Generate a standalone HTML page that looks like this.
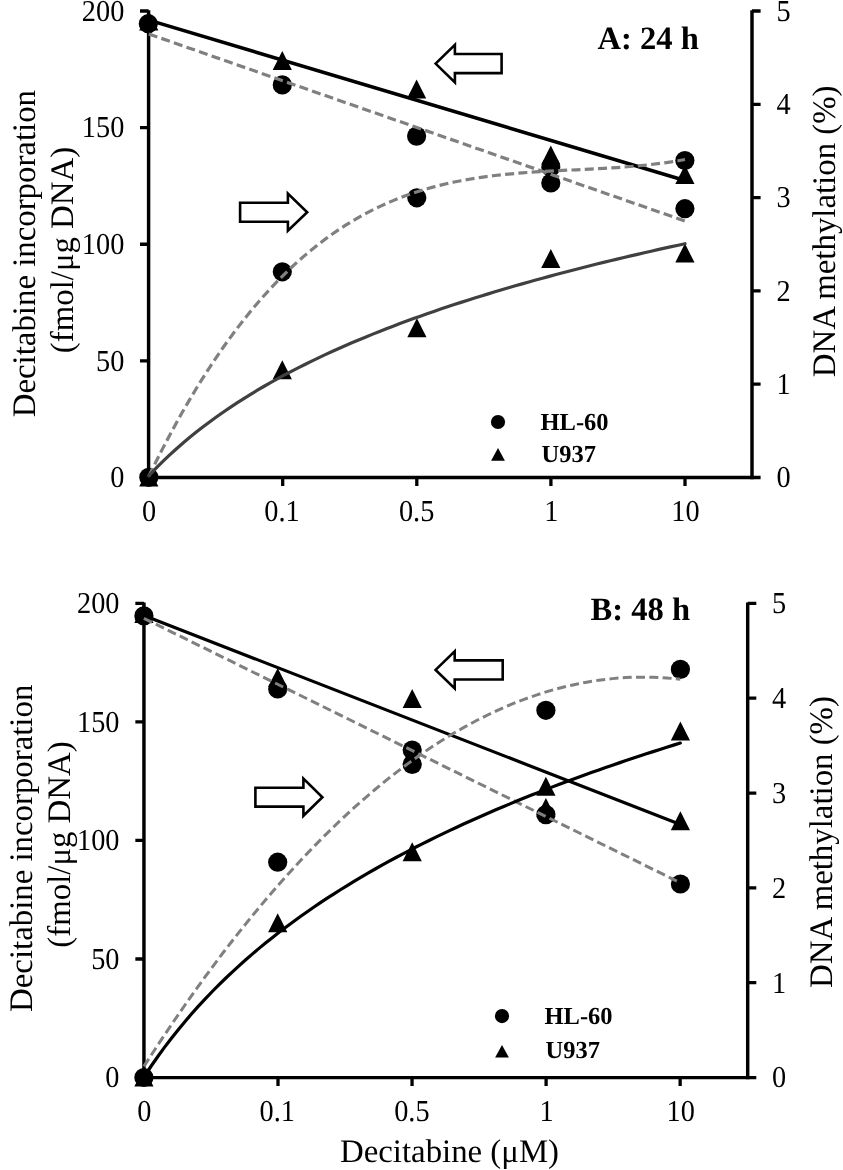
<!DOCTYPE html>
<html><head><meta charset="utf-8"><title>Decitabine</title>
<style>html,body{margin:0;padding:0;background:#fff}svg{display:block;filter:grayscale(1)}text{text-rendering:geometricPrecision}</style></head><body>
<svg width="843" height="1170" viewBox="0 0 843 1170">
<rect width="843" height="1170" fill="#fff"/>
<g stroke="#000" fill="none">
<path stroke-width="3.45" d="M148.60,10.20 V479.15 M752.00,10.20 V479.15"/>
<path stroke-width="3.3" d="M148.60,477.50 H752.00"/>
<path stroke-width="3.3" d="M140.00,477.50 H148.60 M140.00,360.88 H148.60 M140.00,244.25 H148.60 M140.00,127.62 H148.60 M140.00,11.00 H148.60 M752.00,477.50 H760.60 M752.00,384.20 H760.60 M752.00,290.90 H760.60 M752.00,197.60 H760.60 M752.00,104.30 H760.60 M752.00,11.00 H760.60 M148.60,477.50 V486.00 M282.70,477.50 V486.00 M416.80,477.50 V486.00 M550.90,477.50 V486.00 M685.00,477.50 V486.00"/>
</g>
<g font-family="Liberation Serif, serif" font-size="30.4" fill="#000">
<text transform="translate(124.3,487.3) scale(0.932,1)" text-anchor="end">0</text>
<text transform="translate(124.3,370.7) scale(0.932,1)" text-anchor="end">50</text>
<text transform="translate(124.3,254.1) scale(0.932,1)" text-anchor="end">100</text>
<text transform="translate(124.3,137.4) scale(0.932,1)" text-anchor="end">150</text>
<text transform="translate(124.3,20.8) scale(0.932,1)" text-anchor="end">200</text>
<text transform="translate(783.7,487.3) scale(0.932,1)" text-anchor="middle">0</text>
<text transform="translate(783.7,394.0) scale(0.932,1)" text-anchor="middle">1</text>
<text transform="translate(783.7,300.7) scale(0.932,1)" text-anchor="middle">2</text>
<text transform="translate(783.7,207.4) scale(0.932,1)" text-anchor="middle">3</text>
<text transform="translate(783.7,114.1) scale(0.932,1)" text-anchor="middle">4</text>
<text transform="translate(783.7,20.8) scale(0.932,1)" text-anchor="middle">5</text>
<text transform="translate(149.1,521.0) scale(0.932,1)" text-anchor="middle">0</text>
<text transform="translate(282.0,521.0) scale(0.932,1)" text-anchor="middle">0.1</text>
<text transform="translate(416.6,521.0) scale(0.932,1)" text-anchor="middle">0.5</text>
<text transform="translate(551.4,521.0) scale(0.932,1)" text-anchor="middle">1</text>
<text transform="translate(685.5,521.0) scale(0.932,1)" text-anchor="middle">10</text>
</g>
<polygon points="148.8,11.5 139.2,30.5 158.4,30.5" fill="#000"/>
<polygon points="282.3,51.0 272.7,70.0 291.9,70.0" fill="#000"/>
<polygon points="416.6,79.6 407.0,98.6 426.2,98.6" fill="#000"/>
<polygon points="550.8,145.5 541.2,164.5 560.4,164.5" fill="#000"/>
<polygon points="684.9,165.0 675.3,184.0 694.5,184.0" fill="#000"/>
<polygon points="148.8,467.5 139.2,486.5 158.4,486.5" fill="#000"/>
<polygon points="282.3,360.3 272.7,379.3 291.9,379.3" fill="#000"/>
<polygon points="416.9,318.3 407.3,337.3 426.5,337.3" fill="#000"/>
<polygon points="550.8,249.1 541.2,268.1 560.4,268.1" fill="#000"/>
<polygon points="684.9,243.5 675.3,262.5 694.5,262.5" fill="#000"/>
<circle cx="148.3" cy="23.7" r="9.6" fill="#000"/>
<circle cx="282.3" cy="84.9" r="9.6" fill="#000"/>
<circle cx="416.6" cy="136.1" r="9.6" fill="#000"/>
<circle cx="550.8" cy="183.0" r="9.6" fill="#000"/>
<circle cx="684.9" cy="208.7" r="9.6" fill="#000"/>
<circle cx="148.8" cy="477.3" r="9.6" fill="#000"/>
<circle cx="282.3" cy="271.8" r="9.6" fill="#000"/>
<circle cx="416.8" cy="197.8" r="9.6" fill="#000"/>
<circle cx="550.8" cy="167.1" r="9.6" fill="#000"/>
<circle cx="684.9" cy="160.5" r="9.6" fill="#000"/>
<path d="M148.8,20.1 L684.9,180.5" fill="none" stroke="#000" stroke-width="3.6" stroke-linecap="round"/>
<path d="M148.8,34.0 L684.9,221.0" fill="none" stroke="#808080" stroke-width="3.2" stroke-dasharray="9.0,4.3"/>
<path d="M148.80,476.31 L155.59,462.51 L162.37,449.15 L169.16,436.20 L175.95,423.67 L182.74,411.55 L189.52,399.83 L196.31,388.50 L203.10,377.57 L209.89,367.01 L216.67,356.83 L223.46,347.02 L230.25,337.56 L237.04,328.46 L243.82,319.71 L250.61,311.29 L257.40,303.21 L264.18,295.45 L270.97,288.02 L277.76,280.89 L284.55,274.07 L291.33,267.54 L298.12,261.31 L304.91,255.35 L311.70,249.68 L318.48,244.27 L325.27,239.13 L332.06,234.24 L338.85,229.61 L345.63,225.21 L352.42,221.05 L359.21,217.11 L365.99,213.40 L372.78,209.90 L379.57,206.61 L386.36,203.52 L393.14,200.62 L399.93,197.90 L406.72,195.37 L413.51,193.00 L420.29,190.81 L427.08,188.77 L433.87,186.88 L440.66,185.13 L447.44,183.53 L454.23,182.05 L461.02,180.70 L467.81,179.46 L474.59,178.33 L481.38,177.30 L488.17,176.37 L494.95,175.53 L501.74,174.77 L508.53,174.08 L515.32,173.46 L522.10,172.90 L528.89,172.40 L535.68,171.94 L542.47,171.52 L549.25,171.14 L556.04,170.77 L562.83,170.43 L569.62,170.10 L576.40,169.78 L583.19,169.45 L589.98,169.11 L596.76,168.76 L603.55,168.38 L610.34,167.97 L617.13,167.53 L623.91,167.04 L630.70,166.50 L637.49,165.90 L644.28,165.24 L651.06,164.51 L657.85,163.70 L664.64,162.80 L671.43,161.80 L678.21,160.71 L685.00,159.51" fill="none" stroke="#808080" stroke-width="3.2" stroke-dasharray="9.0,4.3"/>
<path d="M148.80,475.80 L155.59,468.68 L162.37,461.89 L169.16,455.41 L175.95,449.21 L182.74,443.26 L189.52,437.55 L196.31,432.05 L203.10,426.76 L209.89,421.66 L216.67,416.72 L223.46,411.96 L230.25,407.34 L237.04,402.87 L243.82,398.53 L250.61,394.32 L257.40,390.23 L264.18,386.25 L270.97,382.38 L277.76,378.61 L284.55,374.94 L291.33,371.36 L298.12,367.86 L304.91,364.45 L311.70,361.11 L318.48,357.85 L325.27,354.67 L332.06,351.55 L338.85,348.50 L345.63,345.51 L352.42,342.58 L359.21,339.71 L365.99,336.90 L372.78,334.14 L379.57,331.43 L386.36,328.77 L393.14,326.16 L399.93,323.60 L406.72,321.08 L413.51,318.60 L420.29,316.17 L427.08,313.77 L433.87,311.42 L440.66,309.10 L447.44,306.82 L454.23,304.58 L461.02,302.37 L467.81,300.19 L474.59,298.05 L481.38,295.94 L488.17,293.85 L494.95,291.80 L501.74,289.78 L508.53,287.78 L515.32,285.81 L522.10,283.87 L528.89,281.95 L535.68,280.06 L542.47,278.20 L549.25,276.35 L556.04,274.53 L562.83,272.74 L569.62,270.96 L576.40,269.21 L583.19,267.48 L589.98,265.77 L596.76,264.07 L603.55,262.40 L610.34,260.75 L617.13,259.11 L623.91,257.50 L630.70,255.90 L637.49,254.32 L644.28,252.76 L651.06,251.21 L657.85,249.68 L664.64,248.17 L671.43,246.67 L678.21,245.19 L685.00,243.72" fill="none" stroke="#404040" stroke-width="3.2" stroke-linecap="round"/>
<polygon points="435.6,63.6 454.9,44.9 454.9,54 501.6,54 501.6,73.1 454.9,73.1 454.9,82.4" fill="#fff" stroke="#000" stroke-width="2.6"/>
<polygon points="240.1,202.7 287.9,202.7 287.9,193.6 307.2,212.2 287.9,230.8 287.9,221.7 240.1,221.7" fill="#fff" stroke="#000" stroke-width="2.6" stroke-linejoin="miter"/>
<circle cx="498.0" cy="422.0" r="7.1" fill="#000"/>
<polygon points="498.0,448.1 491.1,460.7 504.9,460.7" fill="#000"/>
<g font-family="Liberation Serif, serif" font-weight="bold" fill="#000">
<text x="597.5" y="48.7" font-size="32.6">A: 24 h</text>
<text x="540.5" y="430.3" font-size="24.5">HL-60</text>
<text x="541.5" y="461.9" font-size="24.5">U937</text>
</g>
<g font-family="Liberation Serif, serif" font-size="32.85" fill="#000" text-anchor="middle">
<text transform="translate(35.2,253.6) rotate(-90)">Decitabine incorporation</text>
<text transform="translate(73.1,250) rotate(-90)">(fmol/μg DNA)</text>
<text transform="translate(835.1,231.4) rotate(-90)">DNA methylation (%)</text>
</g>
<g stroke="#000" fill="none">
<path stroke-width="3.45" d="M143.95,602.55 V1079.20 M747.70,602.55 V1079.20"/>
<path stroke-width="3.3" d="M143.95,1077.55 H747.70"/>
<path stroke-width="3.3" d="M135.35,1077.55 H143.95 M135.35,959.00 H143.95 M135.35,840.45 H143.95 M135.35,721.90 H143.95 M135.35,603.35 H143.95 M747.70,1077.55 H756.30 M747.70,982.71 H756.30 M747.70,887.87 H756.30 M747.70,793.03 H756.30 M747.70,698.19 H756.30 M747.70,603.35 H756.30 M143.95,1077.55 V1086.05 M278.00,1077.55 V1086.05 M412.05,1077.55 V1086.05 M546.10,1077.55 V1086.05 M680.15,1077.55 V1086.05"/>
</g>
<g font-family="Liberation Serif, serif" font-size="30.4" fill="#000">
<text transform="translate(119.5,1087.3) scale(0.932,1)" text-anchor="end">0</text>
<text transform="translate(119.5,968.8) scale(0.932,1)" text-anchor="end">50</text>
<text transform="translate(119.5,850.2) scale(0.932,1)" text-anchor="end">100</text>
<text transform="translate(119.5,731.7) scale(0.932,1)" text-anchor="end">150</text>
<text transform="translate(119.5,613.1) scale(0.932,1)" text-anchor="end">200</text>
<text transform="translate(779.0,1087.3) scale(0.932,1)" text-anchor="middle">0</text>
<text transform="translate(779.0,992.5) scale(0.932,1)" text-anchor="middle">1</text>
<text transform="translate(779.0,897.7) scale(0.932,1)" text-anchor="middle">2</text>
<text transform="translate(779.0,802.8) scale(0.932,1)" text-anchor="middle">3</text>
<text transform="translate(779.0,708.0) scale(0.932,1)" text-anchor="middle">4</text>
<text transform="translate(779.0,613.1) scale(0.932,1)" text-anchor="middle">5</text>
<text transform="translate(144.4,1121.0) scale(0.932,1)" text-anchor="middle">0</text>
<text transform="translate(277.3,1121.0) scale(0.932,1)" text-anchor="middle">0.1</text>
<text transform="translate(411.9,1121.0) scale(0.932,1)" text-anchor="middle">0.5</text>
<text transform="translate(546.6,1121.0) scale(0.932,1)" text-anchor="middle">1</text>
<text transform="translate(680.7,1121.0) scale(0.932,1)" text-anchor="middle">10</text>
</g>
<polygon points="143.9,604.0 134.3,623.0 153.5,623.0" fill="#000"/>
<polygon points="277.7,668.0 268.1,687.0 287.3,687.0" fill="#000"/>
<polygon points="412.2,689.1 402.6,708.1 421.8,708.1" fill="#000"/>
<polygon points="545.9,798.0 536.3,817.0 555.5,817.0" fill="#000"/>
<polygon points="680.4,811.2 670.8,830.2 690.0,830.2" fill="#000"/>
<polygon points="143.9,1067.5 134.3,1086.5 153.5,1086.5" fill="#000"/>
<polygon points="277.7,913.3 268.1,932.3 287.3,932.3" fill="#000"/>
<polygon points="412.2,842.2 402.6,861.2 421.8,861.2" fill="#000"/>
<polygon points="545.9,776.7 536.3,795.7 555.5,795.7" fill="#000"/>
<polygon points="680.4,721.6 670.8,740.6 690.0,740.6" fill="#000"/>
<circle cx="143.9" cy="615.9" r="9.6" fill="#000"/>
<circle cx="277.7" cy="688.9" r="9.6" fill="#000"/>
<circle cx="412.2" cy="750.1" r="9.6" fill="#000"/>
<circle cx="545.9" cy="814.6" r="9.6" fill="#000"/>
<circle cx="680.4" cy="884.0" r="9.6" fill="#000"/>
<circle cx="143.9" cy="1077.5" r="9.6" fill="#000"/>
<circle cx="277.7" cy="862.2" r="9.6" fill="#000"/>
<circle cx="412.2" cy="764.4" r="9.6" fill="#000"/>
<circle cx="545.9" cy="710.3" r="9.6" fill="#000"/>
<circle cx="680.4" cy="669.4" r="9.6" fill="#000"/>
<path d="M143.9,615.5 L680.4,824.5" fill="none" stroke="#000" stroke-width="3.2" stroke-linecap="round"/>
<path d="M143.9,618.3 L680.4,882.8" fill="none" stroke="#808080" stroke-width="3.0" stroke-dasharray="9.0,4.3"/>
<path d="M143.90,1066.40 L150.69,1055.89 L157.48,1045.52 L164.27,1035.30 L171.06,1025.22 L177.85,1015.29 L184.64,1005.50 L191.43,995.85 L198.22,986.35 L205.01,976.99 L211.80,967.77 L218.59,958.70 L225.38,949.77 L232.17,940.99 L238.96,932.35 L245.75,923.85 L252.54,915.50 L259.33,907.29 L266.12,899.23 L272.91,891.31 L279.70,883.53 L286.49,875.90 L293.28,868.41 L300.07,861.06 L306.86,853.86 L313.65,846.80 L320.44,839.89 L327.23,833.12 L334.02,826.49 L340.81,820.01 L347.60,813.67 L354.39,807.47 L361.18,801.42 L367.97,795.51 L374.76,789.75 L381.55,784.13 L388.34,778.65 L395.13,773.32 L401.92,768.13 L408.71,763.09 L415.49,758.19 L422.28,753.43 L429.07,748.82 L435.86,744.35 L442.65,740.02 L449.44,735.84 L456.23,731.80 L463.02,727.91 L469.81,724.16 L476.60,720.55 L483.39,717.09 L490.18,713.77 L496.97,710.60 L503.76,707.57 L510.55,704.68 L517.34,701.93 L524.13,699.34 L530.92,696.88 L537.71,694.57 L544.50,692.40 L551.29,690.38 L558.08,688.49 L564.87,686.76 L571.66,685.17 L578.45,683.72 L585.24,682.41 L592.03,681.25 L598.82,680.23 L605.61,679.36 L612.40,678.63 L619.19,678.04 L625.98,677.60 L632.77,677.30 L639.56,677.15 L646.35,677.14 L653.14,677.27 L659.93,677.55 L666.72,677.97 L673.51,678.53 L680.30,679.24" fill="none" stroke="#808080" stroke-width="3.0" stroke-dasharray="9.0,4.3"/>
<path d="M143.90,1077.00 L150.69,1066.75 L157.48,1056.98 L164.27,1047.66 L171.06,1038.73 L177.85,1030.17 L184.64,1021.95 L191.43,1014.05 L198.22,1006.43 L205.01,999.09 L211.80,991.99 L218.59,985.13 L225.38,978.49 L232.17,972.06 L238.96,965.82 L245.75,959.76 L252.54,953.87 L259.33,948.15 L266.12,942.57 L272.91,937.15 L279.70,931.86 L286.49,926.71 L293.28,921.68 L300.07,916.77 L306.86,911.97 L313.65,907.28 L320.44,902.69 L327.23,898.21 L334.02,893.81 L340.81,889.51 L347.60,885.30 L354.39,881.17 L361.18,877.12 L367.97,873.15 L374.76,869.25 L381.55,865.43 L388.34,861.67 L395.13,857.98 L401.92,854.36 L408.71,850.80 L415.49,847.29 L422.28,843.85 L429.07,840.46 L435.86,837.13 L442.65,833.85 L449.44,830.62 L456.23,827.44 L463.02,824.31 L469.81,821.22 L476.60,818.18 L483.39,815.18 L490.18,812.23 L496.97,809.32 L503.76,806.45 L510.55,803.61 L517.34,800.82 L524.13,798.06 L530.92,795.34 L537.71,792.65 L544.50,790.00 L551.29,787.38 L558.08,784.80 L564.87,782.24 L571.66,779.72 L578.45,777.23 L585.24,774.77 L592.03,772.33 L598.82,769.93 L605.61,767.55 L612.40,765.20 L619.19,762.87 L625.98,760.57 L632.77,758.30 L639.56,756.05 L646.35,753.82 L653.14,751.62 L659.93,749.44 L666.72,747.29 L673.51,745.15 L680.30,743.04" fill="none" stroke="#000" stroke-width="3.2" stroke-linecap="round"/>
<polygon points="435.6,669.9 454.7,651.3 454.7,660.4 502.7,660.4 502.7,679.5 454.7,679.5 454.7,688.5" fill="#fff" stroke="#000" stroke-width="2.6"/>
<polygon points="255.4,787.8 303.4,787.8 303.4,778.6 322.4,797.2 303.4,815.8 303.4,806.6 255.4,806.6" fill="#fff" stroke="#000" stroke-width="2.6" stroke-linejoin="miter"/>
<circle cx="502.0" cy="1016.1" r="7.1" fill="#000"/>
<polygon points="502.0,1045.0 495.1,1057.6 508.9,1057.6" fill="#000"/>
<g font-family="Liberation Serif, serif" font-weight="bold" fill="#000">
<text x="590.6" y="620.3" font-size="32.6">B: 48 h</text>
<text x="544.5" y="1024.4" font-size="24.5">HL-60</text>
<text x="545.5" y="1058.1" font-size="24.5">U937</text>
</g>
<g font-family="Liberation Serif, serif" font-size="32.85" fill="#000" text-anchor="middle">
<text transform="translate(32.1,848.3) rotate(-90)">Decitabine incorporation</text>
<text transform="translate(69.8,844.5) rotate(-90)">(fmol/μg DNA)</text>
<text transform="translate(831.7,842) rotate(-90)">DNA methylation (%)</text>
<text x="449.5" y="1161.6">Decitabine (μM)</text>
</g>
</svg></body></html>
